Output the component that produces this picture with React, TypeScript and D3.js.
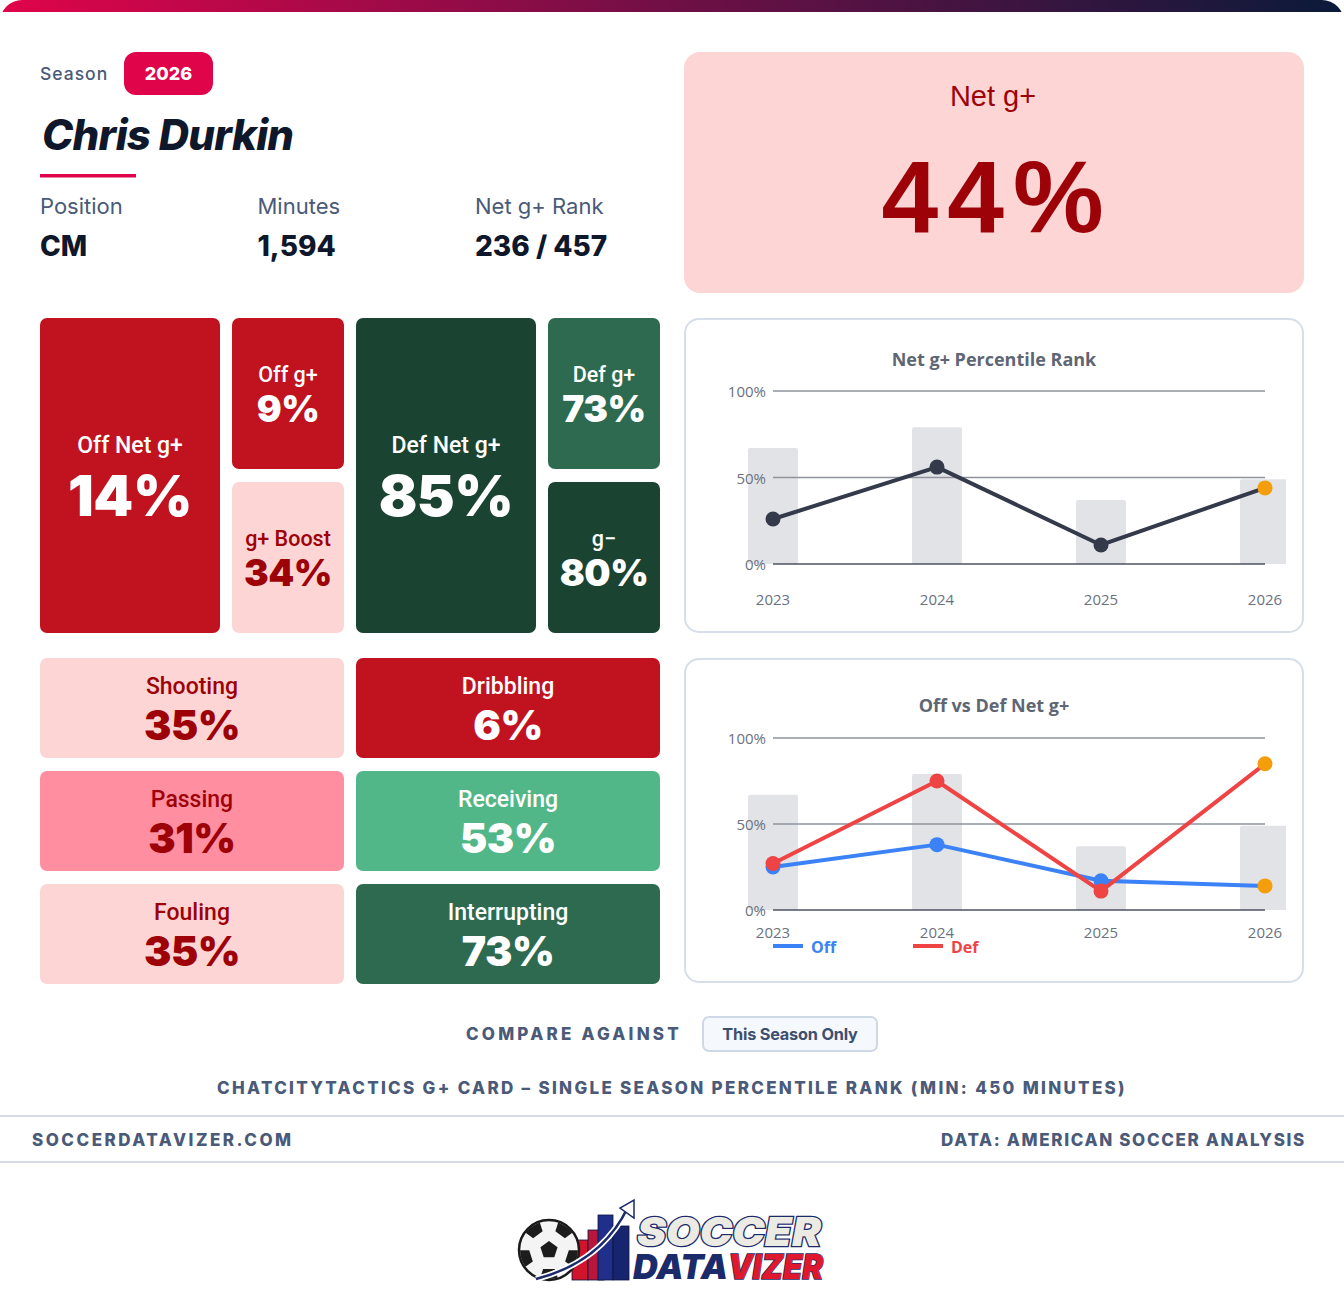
import React from "react";
import * as d3 from "d3";

// season history
const seasons = ["2023", "2024", "2025", "2026"];
const netRank = [26, 56, 11, 44];
const offRank = [25, 38, 17, 14];
const defRank = [27, 75, 11, 85];
const minutesShare = [67, 79, 37, 49];
const yTicks = [0, 50, 100];

const infoLabels = ["Position", "Minutes", "Net g+ Rank"];
const infoValues = ["CM", "1,594", "236 / 457"];

const offLabels = ["Off Net g+", "Off g+", "g+ Boost"];
const offValues = [14, 9, 34];
const defLabels = ["Def Net g+", "Def g+", "g\u2212"];
const defValues = [85, 73, 80];

const componentLabels = ["Shooting", "Dribbling", "Passing", "Receiving", "Fouling", "Interrupting"];
const componentValues = [35, 6, 31, 53, 35, 73];

const netValue = 44;

const W = 1344;
const H = 1312;
const slate = "#4a5a78";
const ink = "#0f172a";
const darkRed = "#9d0208";

const tileFill = d3
  .scaleThreshold<number, string>()
  .domain([20, 33, 50, 60, 80])
  .range(["#c1121f", "#ff8fa0", "#fdd5d5", "#52b788", "#2d6a4f", "#1b4332"]);
const tileText = (v: number) => (v >= 20 && v < 50 ? darkRed : "#ffffff");

const labelFont = "Roboto, Inter, sans-serif";
const valueFont = "Inter, Roboto, sans-serif";
const chartFont = "'Open Sans', 'Noto Sans', sans-serif";

function Tile({ x, y, w, h, label, value, labelSize, valueSize, labelDy, valueDy }) {
  const cx = x + w / 2;
  const cy = y + h / 2;
  const col = tileText(value);
  return (
    <g>
      <rect x={x} y={y} width={w} height={h} rx={7} fill={tileFill(value)} />
      <text x={cx} y={cy + labelDy} textAnchor="middle" fontFamily={labelFont} fontWeight={500} fontSize={labelSize} fill={col}>
        {label}
      </text>
      <text x={cx} y={cy + valueDy} textAnchor="middle" fontFamily={valueFont} fontWeight={900} fontSize={valueSize} letterSpacing={-0.5} fill={col}>
        {value}%
      </text>
    </g>
  );
}

function TileGroup({ x0, labels, values }) {
  const top = 318;
  const fullH = 315;
  const halfH = 151;
  return (
    <g>
      <Tile x={x0} y={top} w={180} h={fullH} label={labels[0]} value={values[0]} labelSize={23} valueSize={57} labelDy={-23} valueDy={40} />
      {[1, 2].map((i, k) => (
        <Tile
          key={i}
          x={x0 + 192}
          y={top + k * (fullH - halfH)}
          w={112}
          h={halfH}
          label={labels[i]}
          value={values[i]}
          labelSize={21.5}
          valueSize={37}
          labelDy={-12}
          valueDy={28}
        />
      ))}
    </g>
  );
}

function TrendPanel({ top, height, title, titleY, y100, y0, xLabelY, series, legend, id }) {
  const x = d3.scalePoint<string>().domain(seasons).range([773, 1265]);
  const y = d3.scaleLinear().domain([0, 100]).range([y0, y100]);
  const line = d3
    .line<number>()
    .x((_, i) => x(seasons[i]) as number)
    .y((d) => y(d));
  const barW = 50;
  return (
    <g>
      <rect x={685} y={top} width={618} height={height} rx={14} fill="#ffffff" stroke="#d6deea" strokeWidth={2} />
      <text x={994} y={titleY} textAnchor="middle" fontFamily={chartFont} fontWeight={700} fontSize={18} fill="#5f6673">
        {title}
      </text>
      <clipPath id={id}>
        <rect x={700} y={top} width={586} height={height} />
      </clipPath>
      <g clipPath={`url(#${id})`}>
        {minutesShare.map((v, i) => (
          <rect
            key={i}
            x={(x(seasons[i]) as number) - barW / 2}
            y={y(v)}
            width={barW}
            height={y(0) - y(v)}
            rx={2}
            fill="#e2e3e7"
          />
        ))}
      </g>
      {yTicks.map((t) => (
        <g key={t}>
          <line x1={773} x2={1265} y1={y(t)} y2={y(t)} stroke={t === 0 ? "#4b5260" : "#8e939c"} strokeWidth={1.5} />
          <text x={766} y={y(t) + 6} textAnchor="end" fontFamily={chartFont} fontSize={15} fill="#6b7280">
            {t}%
          </text>
        </g>
      ))}
      {seasons.map((s) => (
        <text key={s} x={x(s)} y={xLabelY} textAnchor="middle" fontFamily={chartFont} fontSize={15} fill="#6b7280">
          {s}
        </text>
      ))}
      {series.map((sr) => (
        <g key={sr.name}>
          <path d={line(sr.values) as string} fill="none" stroke={sr.color} strokeWidth={4} strokeLinejoin="round" />
          {sr.values.map((v, i) => (
            <circle
              key={i}
              cx={x(seasons[i])}
              cy={y(v)}
              r={7.5}
              fill={i === seasons.length - 1 ? "#f59e0b" : sr.color}
            />
          ))}
        </g>
      ))}
      {legend &&
        series.map((sr, i) => (
          <g key={sr.name} transform={`translate(${773 + i * 140},946)`}>
            <line x1={0} x2={30} y1={0} y2={0} stroke={sr.color} strokeWidth={4} />
            <text x={38} y={7} fontFamily={chartFont} fontWeight={700} fontSize={16} fill={sr.color}>
              {sr.name}
            </text>
          </g>
        ))}
    </g>
  );
}

function Logo() {
  const ballCx = 549;
  const ballCy = 1250;
  const pent = (cx, cy, r, rot) =>
    d3.range(5).map((k) => {
      const a = rot + (k * 2 * Math.PI) / 5;
      return [cx + r * Math.cos(a), cy + r * Math.sin(a)];
    });
  const poly = (pts) => "M" + pts.map((p) => p.join(",")).join("L") + "Z";
  const barX = [572, 588, 598, 613];
  const barTop = [1240, 1230, 1215, 1226];
  const barCol = ["#d0142c", "#b8163a", "#1f2f8a", "#16256e"];
  return (
    <g>
      <defs>
        <clipPath id="ballClip">
          <circle cx={ballCx} cy={ballCy} r={29} />
        </clipPath>
      </defs>
      {barX.map((bx, i) => (
        <rect key={i} x={bx} y={barTop[i]} width={i === 2 ? 15 : 16} height={1280 - barTop[i]} fill={barCol[i]} stroke="#0d1440" strokeWidth={0.8} />
      ))}
      <circle cx={ballCx} cy={ballCy} r={30} fill="#f4f4f4" stroke="#1a1a1a" strokeWidth={2.5} />
      <g clipPath="url(#ballClip)" fill="#1c1c1c">
        <path d={poly(pent(ballCx, ballCy, 9, -Math.PI / 2))} />
        {d3.range(5).map((k) => {
          const a = -Math.PI / 2 + Math.PI / 5 + (k * 2 * Math.PI) / 5;
          return <path key={k} d={poly(pent(ballCx + 27 * Math.cos(a), ballCy + 27 * Math.sin(a), 10, a))} />;
        })}
      </g>
      <path d="M536,1279 Q602,1262 628,1207" fill="none" stroke="#ffffff" strokeWidth={6} />
      <path d="M536,1279 Q602,1262 628,1207" fill="none" stroke="#1b2a6b" strokeWidth={2.5} />
      <path d="M634,1200 L634,1218 L620,1208 Z" fill="#ffffff" stroke="#1b2a6b" strokeWidth={1.5} />
      <text x={637} y={1246} textLength={184} lengthAdjust="spacingAndGlyphs" fontFamily="Inter, sans-serif" fontStyle="italic" fontWeight={900} fontSize={40} fill="#ecebe3" stroke="#1b2a6b" strokeWidth={2.5} paintOrder="stroke">
        SOCCER
      </text>
      <text x={633} y={1279} textLength={95} lengthAdjust="spacingAndGlyphs" fontFamily="Inter, sans-serif" fontStyle="italic" fontWeight={900} fontSize={34} fill="#1b2a6b" stroke="#ffffff" strokeWidth={1} paintOrder="stroke">
        DATA
      </text>
      <text x={728} y={1279} textLength={95} lengthAdjust="spacingAndGlyphs" fontFamily="Inter, sans-serif" fontStyle="italic" fontWeight={900} fontSize={34} fill="#e0182e" stroke="#1b2a6b" strokeWidth={1.5} paintOrder="stroke">
        VIZER
      </text>
    </g>
  );
}

export default function App() {
  const infoX = d3.scalePoint<string>().domain(infoLabels).range([40, 475]);
  const compX = d3.scaleBand<number>().domain([0, 1]).range([40, 660]).paddingInner(12 / 316).paddingOuter(0);
  const compY = d3.scaleBand<number>().domain([0, 1, 2]).range([658, 984]).paddingInner(13 / 113).paddingOuter(0);

  return (
    <div style={{ position: "absolute", left: 0, top: 0 }}>
      <svg width={W} height={H} viewBox={`0 0 ${W} ${H}`} style={{ display: "block" }}>
        <defs>
          <linearGradient id="topBar" x1="0" x2="1" y1="0" y2="0">
            <stop offset="0%" stopColor="#e0044a" />
            <stop offset="50%" stopColor="#700f46" />
            <stop offset="100%" stopColor="#0a1a3a" />
          </linearGradient>
          <clipPath id="card">
            <rect x={0} y={0} width={W} height={H} rx={22} />
          </clipPath>
        </defs>
        <g clipPath="url(#card)">
          <rect x={0} y={0} width={W} height={H} fill="#ffffff" />
          <rect x={0} y={0} width={W} height={12} fill="url(#topBar)" />
        </g>

        {/* header */}
        <text x={40} y={80} fontFamily="Inter, sans-serif" fontWeight={500} fontSize={17.5} letterSpacing={1} fill={slate}>
          Season
        </text>
        <rect x={124} y={52} width={89} height={43} rx={12} fill="#e0044a" />
        <text x={168.5} y={80} textAnchor="middle" fontFamily="Inter, sans-serif" fontWeight={800} fontSize={18} fill="#ffffff">
          2026
        </text>
        <text x={42} y={150} fontFamily="Inter, sans-serif" fontStyle="italic" fontWeight={800} fontSize={42} letterSpacing={-0.7} fill={ink}>
          Chris Durkin
        </text>
        <rect x={40} y={174} width={96} height={3.5} fill="#e0044a" />
        {infoLabels.map((l, i) => (
          <g key={l}>
            <text x={infoX(l)} y={214} fontFamily="Inter, sans-serif" fontSize={22} fill={slate}>
              {l}
            </text>
            <text x={infoX(l)} y={256} fontFamily="Inter, sans-serif" fontWeight={800} fontSize={28} fill={ink}>
              {infoValues[i]}
            </text>
          </g>
        ))}

        {/* headline */}
        <rect x={684} y={52} width={620} height={241} rx={16} fill={tileFill(netValue)} />
        <text x={993} y={106} textAnchor="middle" fontFamily="'Liberation Sans', Arial, sans-serif" fontSize={29} fill={darkRed}>
          Net g+
        </text>
        <text x={997} y={232} textAnchor="middle" fontFamily="'Liberation Sans', Arial, sans-serif" fontWeight={700} fontSize={102} letterSpacing={9} fill={darkRed}>
          {netValue}%
        </text>

        {/* g+ tiles */}
        <TileGroup x0={40} labels={offLabels} values={offValues} />
        <TileGroup x0={356} labels={defLabels} values={defValues} />

        {componentLabels.map((l, i) => (
          <Tile
            key={l}
            x={compX(i % 2) as number}
            y={compY(Math.floor(i / 2)) as number}
            w={compX.bandwidth()}
            h={compY.bandwidth()}
            label={l}
            value={componentValues[i]}
            labelSize={23}
            valueSize={41}
            labelDy={-14}
            valueDy={32}
          />
        ))}

        {/* trend charts */}
        <TrendPanel
          id="c1"
          top={319}
          height={313}
          title="Net g+ Percentile Rank"
          titleY={366}
          y100={391}
          y0={564}
          xLabelY={605}
          series={[{ name: "Net", color: "#343a4a", values: netRank }]}
          legend={false}
        />
        <TrendPanel
          id="c2"
          top={659}
          height={323}
          title="Off vs Def Net g+"
          titleY={712}
          y100={738}
          y0={910}
          xLabelY={938}
          series={[
            { name: "Off", color: "#3b82f6", values: offRank },
            { name: "Def", color: "#ef4444", values: defRank },
          ]}
          legend={true}
        />

        {/* footer */}
        <text x={682} y={1040} textAnchor="end" fontFamily="Inter, sans-serif" fontWeight={800} fontSize={17} letterSpacing={3.2} fill={slate}>
          COMPARE AGAINST
        </text>
        <rect x={703} y={1017} width={174} height={34} rx={6} fill="#f5f8fd" stroke="#cfd8e6" strokeWidth={2} />
        <text x={790} y={1040} textAnchor="middle" fontFamily="Inter, sans-serif" fontWeight={700} fontSize={16.3} letterSpacing={-0.2} fill="#3d4f6e">
          This Season Only
        </text>
        <text x={672} y={1094} textAnchor="middle" fontFamily="Inter, sans-serif" fontWeight={800} fontSize={17} letterSpacing={2.3} fill={slate}>
          CHATCITYTACTICS G+ CARD – SINGLE SEASON PERCENTILE RANK (MIN: 450 MINUTES)
        </text>
        <line x1={0} x2={W} y1={1116} y2={1116} stroke="#d5dbe5" strokeWidth={2} />
        <text x={32} y={1146} fontFamily="Inter, sans-serif" fontWeight={800} fontSize={17} letterSpacing={2.5} fill={slate}>
          SOCCERDATAVIZER.COM
        </text>
        <text x={1306} y={1146} textAnchor="end" fontFamily="Inter, sans-serif" fontWeight={800} fontSize={17} letterSpacing={1.65} fill={slate}>
          DATA: AMERICAN SOCCER ANALYSIS
        </text>
        <line x1={0} x2={W} y1={1162} y2={1162} stroke="#d5dbe5" strokeWidth={2} />

        <Logo />
      </svg>
    </div>
  );
}
